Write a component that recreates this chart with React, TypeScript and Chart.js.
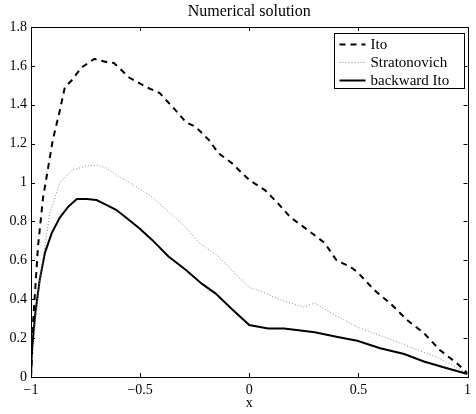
import React, { useEffect, useRef } from "react";
import { Chart, registerables } from "chart.js";

Chart.register(...registerables);

const TITLE = "Numerical solution";
const X_LABEL = "x";
const SERIES_NAMES = ["Ito", "Stratonovich", "backward Ito"];

const itoX = [-1, -0.99, -0.968, -0.945, -0.9, -0.868, -0.845, -0.81, -0.77, -0.71, -0.655, -0.62, -0.55, -0.47, -0.41, -0.336, -0.29, -0.245, -0.186, -0.14, -0.08, 0, 0.073, 0.13, 0.19, 0.268, 0.345, 0.4, 0.464, 0.495, 0.573, 0.645, 0.723, 0.8, 0.873, 0.95, 1];
const itoY = [0, 0.29, 0.67, 0.92, 1.22, 1.37, 1.49, 1.53, 1.59, 1.636, 1.62, 1.615, 1.54, 1.49, 1.46, 1.37, 1.31, 1.286, 1.22, 1.15, 1.1, 1.013, 0.96, 0.895, 0.82, 0.756, 0.69, 0.6, 0.566, 0.54, 0.447, 0.38, 0.293, 0.226, 0.139, 0.072, 0.02];

const stratX = [-1, -0.98, -0.96, -0.93, -0.914, -0.868, -0.81, -0.745, -0.7, -0.655, -0.595, -0.52, -0.445, -0.37, -0.29, -0.23, -0.14, -0.05, 0, 0.04, 0.145, 0.25, 0.3, 0.373, 0.495, 0.618, 0.736, 0.86, 0.95, 1];
const stratY = [0, 0.28, 0.5, 0.72, 0.84, 1.0, 1.065, 1.085, 1.09, 1.075, 1.03, 0.98, 0.925, 0.85, 0.77, 0.69, 0.62, 0.515, 0.46, 0.447, 0.396, 0.36, 0.38, 0.33, 0.257, 0.206, 0.154, 0.103, 0.05, 0.02];

const backX = [-1, -0.995, -0.98, -0.96, -0.936, -0.905, -0.868, -0.83, -0.79, -0.745, -0.7, -0.655, -0.61, -0.565, -0.505, -0.445, -0.37, -0.29, -0.218, -0.155, -0.08, 0, 0.086, 0.16, 0.3, 0.405, 0.495, 0.6, 0.71, 0.8, 0.89, 1];
const backY = [0, 0.15, 0.33, 0.5, 0.64, 0.74, 0.82, 0.875, 0.915, 0.915, 0.91, 0.885, 0.86, 0.82, 0.766, 0.705, 0.62, 0.55, 0.48, 0.43, 0.35, 0.267, 0.25, 0.25, 0.23, 0.206, 0.186, 0.148, 0.118, 0.08, 0.05, 0.015];

const FONT = "'Liberation Serif', 'Times New Roman', serif";

const toPoints = (xs: number[], ys: number[]) => xs.map((x, i) => ({ x, y: ys[i] }));

const fmt = (v: number) => {
  const r = Math.round(v * 10) / 10;
  return String(r).replace("-", "\u2212");
};

const frameAndLegend = {
  id: "frameAndLegend",
  afterDraw(chart: any) {
    const ctx = chart.ctx;
    const a = chart.chartArea;
    const xs = chart.scales.x;
    const ys = chart.scales.y;
    ctx.save();
    ctx.strokeStyle = "#000";
    ctx.lineWidth = 1;
    ctx.setLineDash([]);
    ctx.strokeRect(Math.round(a.left) + 0.5, Math.round(a.top) + 0.5, Math.round(a.right - a.left), Math.round(a.bottom - a.top));
    const tl = 4;
    ctx.beginPath();
    xs.ticks.forEach((t: any) => {
      const px = Math.round(xs.getPixelForValue(t.value)) + 0.5;
      ctx.moveTo(px, a.bottom);
      ctx.lineTo(px, a.bottom - tl);
      ctx.moveTo(px, a.top);
      ctx.lineTo(px, a.top + tl);
    });
    ys.ticks.forEach((t: any) => {
      const py = Math.round(ys.getPixelForValue(t.value)) + 0.5;
      ctx.moveTo(a.left, py);
      ctx.lineTo(a.left + tl, py);
      ctx.moveTo(a.right, py);
      ctx.lineTo(a.right - tl, py);
    });
    ctx.stroke();

    // legend box
    const bw = 130;
    const bh = 55;
    const bx = Math.round(a.right - 4 - bw) + 0.5;
    const by = Math.round(a.top + 6) + 0.5;
    ctx.fillStyle = "#fff";
    ctx.fillRect(bx, by, bw, bh);
    ctx.strokeStyle = "#000";
    ctx.lineWidth = 1;
    ctx.strokeRect(bx, by, bw, bh);
    ctx.font = "15px " + FONT;
    ctx.textBaseline = "middle";
    ctx.textAlign = "left";
    chart.data.datasets.forEach((ds: any, i: number) => {
      const y = by + 11 + i * 18;
      ctx.beginPath();
      ctx.strokeStyle = ds.borderColor;
      ctx.lineWidth = ds.borderWidth;
      ctx.setLineDash(ds.borderDash || []);
      ctx.moveTo(bx + 5, y);
      ctx.lineTo(bx + 31, y);
      ctx.stroke();
      ctx.setLineDash([]);
      ctx.fillStyle = "#000";
      ctx.fillText(ds.label, bx + 36, y + 1);
    });
    ctx.restore();
  },
};

export default function App() {
  const ref = useRef<HTMLCanvasElement | null>(null);
  useEffect(() => {
    if (!ref.current) return;
    const chart = new Chart(ref.current, {
      type: "scatter",
      data: {
        datasets: [
          {
            label: SERIES_NAMES[0],
            data: toPoints(itoX, itoY),
            showLine: true,
            borderColor: "#000",
            borderWidth: 2,
            borderDash: [6, 5],
            pointRadius: 0,
            tension: 0,
          },
          {
            label: SERIES_NAMES[1],
            data: toPoints(stratX, stratY),
            showLine: true,
            borderColor: "#888",
            borderWidth: 1,
            borderDash: [1, 2],
            pointRadius: 0,
            tension: 0,
          },
          {
            label: SERIES_NAMES[2],
            data: toPoints(backX, backY),
            showLine: true,
            borderColor: "#000",
            borderWidth: 2,
            pointRadius: 0,
            tension: 0,
          },
        ],
      },
      options: {
        responsive: false,
        animation: false,
        devicePixelRatio: 1,
        layout: { padding: { left: 0, right: 5, top: 0, bottom: 0 } },
        plugins: {
          legend: { display: false },
          tooltip: { enabled: false },
          title: {
            display: true,
            text: TITLE,
            fullSize: false,
            color: "#000",
            font: { family: FONT, size: 16, weight: "normal" },
            padding: { top: 2, bottom: 5.8 },
          },
        },
        scales: {
          x: {
            type: "linear",
            min: -1,
            max: 1,
            afterFit: (s: any) => {
              s.height = 37;
            },
            ticks: {
              stepSize: 0.5,
              color: "#000",
              font: { family: FONT, size: 14 },
              padding: 5,
              maxRotation: 0,
              callback: (v: any) => fmt(Number(v)),
            },
            grid: { display: false, drawTicks: false },
            border: { display: false },
            title: {
              display: true,
              text: X_LABEL,
              color: "#000",
              font: { family: FONT, size: 14 },
              padding: { top: 0, bottom: 2 },
            },
          },
          y: {
            type: "linear",
            min: 0,
            max: 1.8,
            afterFit: (s: any) => {
              s.width = 31;
            },
            ticks: {
              stepSize: 0.2,
              color: "#000",
              font: { family: FONT, size: 14 },
              padding: 4,
              callback: (v: any) => fmt(Number(v)),
            },
            grid: { display: false, drawTicks: false },
            border: { display: false },
          },
        },
      },
      plugins: [frameAndLegend],
    } as any);
    return () => chart.destroy();
  }, []);
  return (
    <div style={{ position: "absolute", left: 0, top: 0, width: 476, height: 414, background: "#fff" }}>
      <canvas ref={ref} width={476} height={414} style={{ width: 476, height: 414, display: "block" }} />
    </div>
  );
}
